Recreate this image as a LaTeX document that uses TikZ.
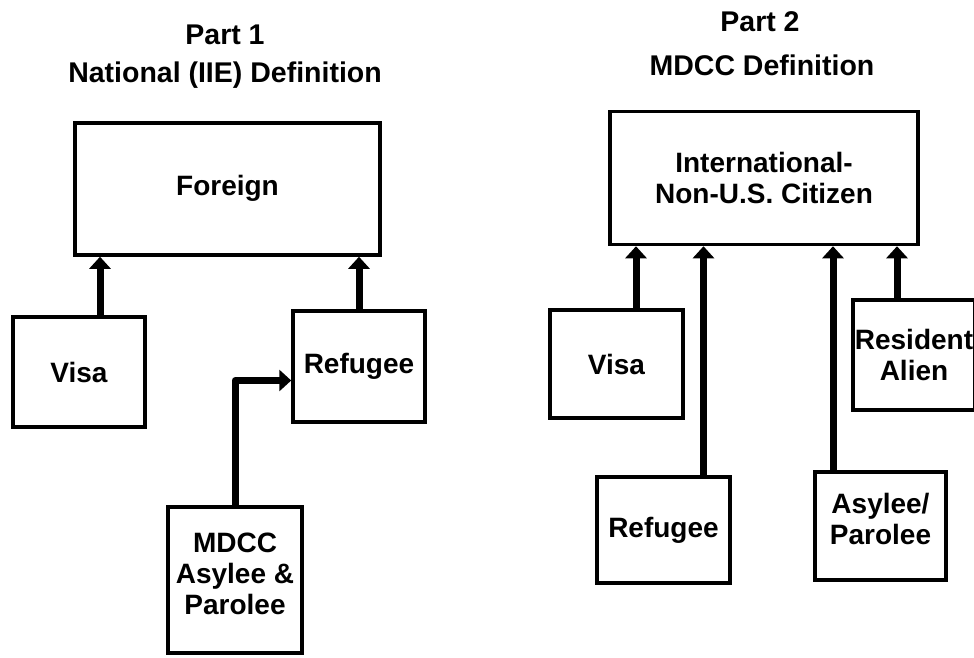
\documentclass[tikz,border=0pt]{standalone}
\usepackage{fontspec}
\setmainfont{Liberation Sans}
\usetikzlibrary{positioning,arrows.meta}

\begin{document}
\begin{tikzpicture}[
            x=1pt, y=-1pt,
            box/.style={rectangle, draw, line width=3.5pt, inner sep=0pt, align=center, font=\bfseries\fontsize{28}{31}\selectfont},
            heading/.style={font=\bfseries\fontsize{28.5}{31}\selectfont},
            arrow/.style={line width=7pt, line join=round, -{Triangle[width=21pt,length=12pt]}}
        ]
        \useasboundingbox (0,0) rectangle (974,657);
        % Part 1
        \node[heading] (p1) at (225,35) {Part 1};
        \node[heading] (p1def) at (225,75) {National (IIE) Definition};
        \node[box, minimum width=305pt, minimum height=132pt] (foreign) at (227.5,189) {Foreign\\[-23pt]};
        \node[box, minimum width=132pt, minimum height=110pt] (visa1) at (79,372) {Visa};
        \node[box, minimum width=132pt, minimum height=111pt] (ref1) at (359,366.5) {Refugee};
        \node[box, minimum width=134pt, minimum height=146pt] (mdcc) at (235,580) {MDCC\\Asylee \&\\Parolee\\[-19pt]};
        % Part 2
        \node[heading] (p2) at (760,22) {Part 2};
        \node[heading] (p2def) at (762,65) {MDCC Definition};
        \node[box, minimum width=308pt, minimum height=133pt] (intl) at (764,178) {International-\\Non-U.S. Citizen};
        \node[box, minimum width=122pt, minimum height=110pt] (resident) at (914,355) {Resident\\Alien};
        \node[box, minimum width=133pt, minimum height=108pt] (visa2) at (616.5,364) {Visa};
        \node[box, minimum width=133pt, minimum height=106pt] (ref2) at (663.5,530) {Refugee};
        \node[box, minimum width=131pt, minimum height=108pt] (asylee) at (880.5,526) {Asylee/\\Parolee\\[-17pt]};
        % Arrows
        \draw[arrow] ([xshift=21pt]visa1.north) -- ([xshift=21pt]visa1.north |- foreign.south);
        \draw[arrow] (ref1.north) -- (ref1.north |- foreign.south);
        \draw[arrow] (mdcc.north) |- ([yshift=-14pt]ref1.west);
        \draw[arrow] ([xshift=19.5pt]visa2.north) -- ([xshift=19.5pt]visa2.north |- intl.south);
        \draw[arrow] ([xshift=40pt]ref2.north) -- ([xshift=40pt]ref2.north |- intl.south);
        \draw[arrow] ([xshift=-47.5pt]asylee.north) -- ([xshift=-47.5pt]asylee.north |- intl.south);
        \draw[arrow] ([xshift=-17pt]resident.north) -- ([xshift=-17pt]resident.north |- intl.south);
    \end{tikzpicture}
\end{document}
